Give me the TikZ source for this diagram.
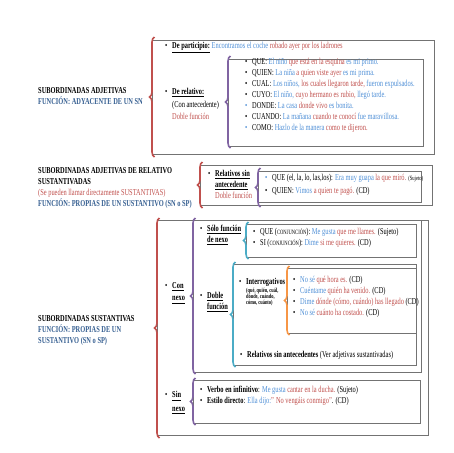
\documentclass[tikz,border=0pt]{standalone}
\usepackage{fontspec}
\setmainfont{Liberation Serif}
\usetikzlibrary{decorations.pathreplacing}
\definecolor{rojo}{HTML}{C0504D}
\definecolor{azul}{HTML}{4F8FD6}
\definecolor{azuloscuro}{HTML}{365F91}
\definecolor{morado}{HTML}{8064A2}
\definecolor{turquesa}{HTML}{4BACC6}
\definecolor{naranja}{HTML}{F79646}
\newcommand{\itm}{\makebox[7pt][l]{\textbullet}}
\newcommand{\ind}{\hspace*{7pt}}
\newcommand{\az}[1]{\textcolor{azul}{#1}}
\newcommand{\ro}[1]{\textcolor{rojo}{#1}}
\newcommand{\ub}[1]{\underline{\textbf{#1}}}
\newcommand{\conj}{{\fontsize{4.6}{5}\selectfont CONJUNCIÓN}}
\tikzset{
  caja/.style={draw=black!55, line width=0.8pt},
  llave/.style={decorate, decoration={brace, amplitude=5pt}, line width=1.6pt},
  txt/.style={anchor=west, inner sep=0pt, align=left, yscale=1.414, transform shape,
    font=\fontsize{6.4}{7.8}\selectfont},
}
\begin{document}
\begin{tikzpicture}[x=1pt,y=-1pt]
                \useasboundingbox (0,0) rectangle (453,453);
                % adjetivas
                \draw[caja] (152,40) rectangle (434,154);
                \draw[llave,rojo] (154.5,157) -- (154.5,37);
                \node[txt] (adj) at (38,96) {\textbf{SUBORDINADAS ADJETIVAS}\\
                    \textcolor{azuloscuro}{\textbf{FUNCIÓN: ADYACENTE DE UN SN}}};
                \node[txt] (particip) at (165,48) {\itm\ub{De participio:} \az{Encontramos el coche} \ro{robado ayer por los ladrones}};
                \node[txt] (relat) at (165,104) {\itm\ub{De relativo:}\\[1pt] \ind(Con antecedente)\\[1pt] \ind\ro{Doble función}};
                \draw[caja] (228,59) rectangle (423,146);
                \draw[llave,morado] (230.5,148) -- (230.5,56);
                \node[txt] (relativos) at (245,95) {\itm QUE: \az{El niño} \ro{que está en la esquina} \az{es mi primo.}\\
                    \itm QUIEN: \az{La niña} \ro{a quien viste ayer} \az{es mi prima.}\\
                    \itm CUAL: \az{Los niños,} \ro{los cuales llegaron tarde,} \az{fueron expulsados.}\\
                    \itm CUYO: \az{El niño,} \ro{cuyo hermano es rubio,} \az{llegó tarde.}\\
                    \az{\itm}DONDE: \az{La casa} \ro{donde vivo} \az{es bonita.}\\
                    \itm CUANDO: \az{La mañana} \ro{cuando te conocí} \az{fue maravillosa.}\\
                    \az{\itm}COMO: \az{Hazlo de la manera} \ro{como te dijeron.}};
                % adjetivas sustantivadas
                \draw[caja] (200,165) rectangle (432,205);
                \draw[llave,rojo] (202.5,208) -- (202.5,162);
                \node[txt] (adjsust) at (38,188) {\textbf{SUBORDINADAS ADJETIVAS DE RELATIVO}\\
                    \textbf{SUSTANTIVADAS}\\
                    \ro{(Se pueden llamar directamente SUSTANTIVAS)}\\
                    \textcolor{azuloscuro}{\textbf{FUNCIÓN: PROPIAS DE UN SUSTANTIVO (SN o SP)}}};
                \node[txt] (sinante) at (208,184) {\itm\ub{Relativos sin}\\ \ind\ub{antecedente}\\ \ind\ro{Doble función}};
                \draw[caja] (258,171) rectangle (421,202);
                \draw[llave,morado] (260.5,207) -- (260.5,168);
                \node[txt] (quequien) at (265,185) {\az{\itm}QUE (el, la, lo, las,los): \az{Era muy guapa} \ro{la que miró.} {\fontsize{4.6}{6}\selectfont(Sujeto)}\\[1.5pt]
                    \itm QUIEN: \az{Vimos} \ro{a quien te pagó.} (CD)};
                % sustantivas
                \draw[caja] (157,220) rectangle (428,435);
                \draw[llave,rojo] (159.5,438) -- (159.5,218);
                \node[txt] (sust) at (38,330) {\textbf{SUBORDINADAS SUSTANTIVAS}\\
                    \textcolor{azuloscuro}{\textbf{FUNCIÓN: PROPIAS DE UN}}\\
                    \textcolor{azuloscuro}{\textbf{SUSTANTIVO (SN o SP)}}};
                \node[txt] (connexo) at (165,293) {\itm\ub{Con}\\[1pt] \ind\ub{nexo}};
                \draw[caja] (193,220) rectangle (421,372);
                \draw[llave,morado] (195.5,374) -- (195.5,218);
                \node[txt] (solonexo) at (200,235) {\itm\ub{Sólo función}\\ \ind\ub{de nexo}};
                \draw[caja] (246,224) rectangle (416,257);
                \draw[llave,turquesa] (248.5,259) -- (248.5,222);
                \node[txt] (quesi) at (253,238) {\itm QUE (\conj): \az{Me gusta} \ro{que me llames.} (Sujeto)\\
                    \itm SI (\conj): \az{Dime} \ro{si me quieres.} (CD)};
                \draw[caja] (233,264) rectangle (416,365);
                \draw[llave,turquesa] (235.5,367) -- (235.5,262);
                \node[txt] (doble) at (200,302) {\itm\ub{Doble}\\ \ind\ub{función}};
                \node[txt] (interrog) at (239,282) {\itm\textbf{Interrogativos}};
                \node[txt, font=\fontsize{4.4}{4.4}\selectfont\bfseries] (pronombres) at (246,297)
                    {(qué, quién, cuál,\\ dónde, cuándo,\\ cómo, cuánto)};
                \draw[caja] (287,268) rectangle (416,333);
                \draw[llave,naranja] (289.5,335) -- (289.5,266);
                \node[txt] (ejinterrog) at (293,296.5) {\itm\az{No sé} \ro{qué hora es.} (CD)\\
                    \itm\az{Cuéntame} \ro{quién ha venido.} (CD)\\
                    \itm\az{Dime} \ro{dónde (cómo, cuándo) has llegado} (CD)\\
                    \itm\az{No sé} \ro{cuánto ha costado.} (CD)};
                \node[txt] (relsinante) at (240,355) {\itm\textbf{Relativos sin antecedentes} (Ver adjetivas sustantivadas)};
                \node[txt] (sinnexo) at (165,403) {\itm\ub{Sin}\\[2pt] \ind\ub{nexo}};
                \draw[caja] (193,380) rectangle (420,423);
                \draw[llave,morado] (195.5,425) -- (195.5,378);
                \node[txt] (sinnexoej) at (200,395.5) {\itm\textbf{Verbo en infinitivo}: \az{Me gusta} \ro{cantar en la ducha.} (Sujeto)\\
                    \itm\textbf{Estilo directo}: \az{Ella dijo:}\ro{'' No vengáis conmigo''}. (CD)};
\end{tikzpicture}
\end{document}
